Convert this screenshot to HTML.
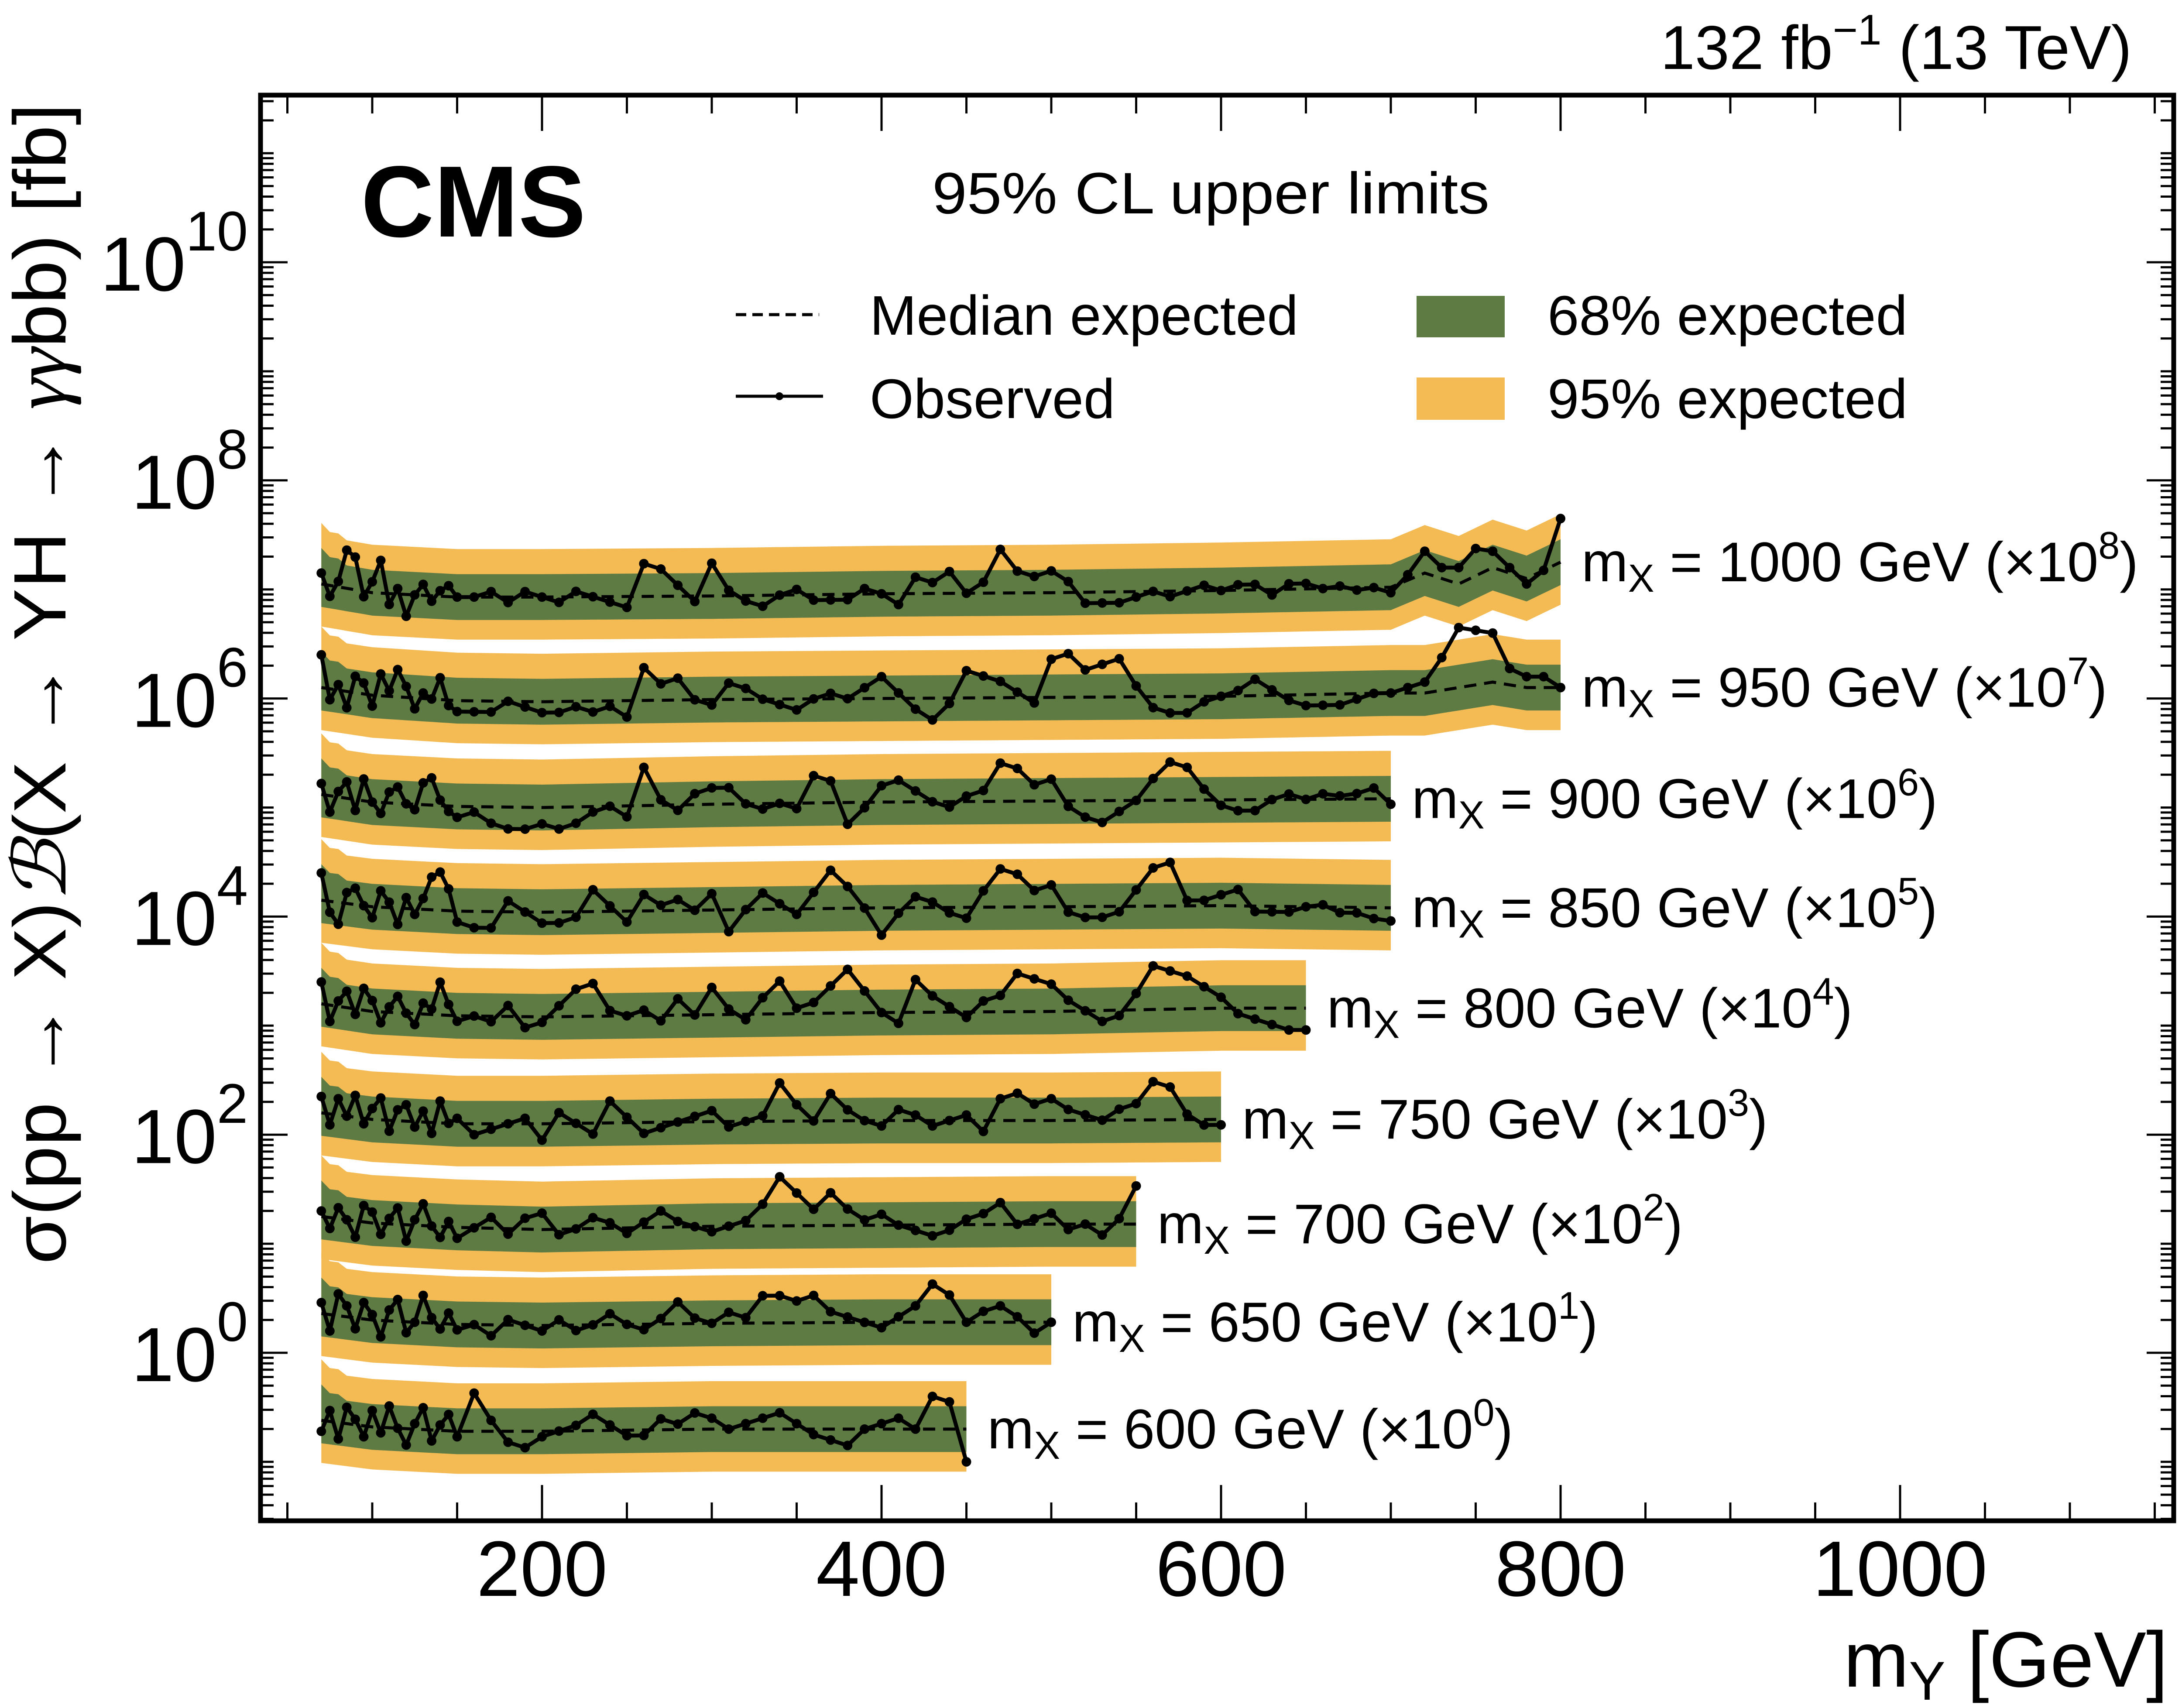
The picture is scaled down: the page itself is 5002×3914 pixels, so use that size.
<!DOCTYPE html>
<html><head><meta charset="utf-8"><style>
html,body{margin:0;padding:0;background:#fff;}
svg{display:block;}
text{font-family:"Liberation Sans",Arial,sans-serif;fill:#000;}
</style></head><body>
<svg id="chart" width="5002" height="3914" viewBox="0 0 5002 3914" xmlns="http://www.w3.org/2000/svg">
<rect x="0" y="0" width="5002" height="3914" fill="#fff"/>
<g id="bands"></g>
<g id="lines"></g>
<g id="axes"></g>
<text x="4885" y="158" font-size="142" text-anchor="end">132 fb<tspan dy="-56" font-size="98">−1</tspan><tspan dy="56"> (13 TeV)</tspan></text>
<text x="827" y="542" font-size="232" font-weight="bold">CMS</text>
<text x="2136" y="489" font-size="134" textLength="1277" lengthAdjust="spacingAndGlyphs">95% CL upper limits</text>
<line x1="1686" y1="721" x2="1877" y2="721" stroke="#000" stroke-width="7" stroke-dasharray="24,14"/>
<text x="1993" y="767" font-size="128" textLength="982" lengthAdjust="spacingAndGlyphs">Median expected</text>
<line x1="1686" y1="908" x2="1886" y2="908" stroke="#000" stroke-width="7"/>
<circle cx="1786" cy="908" r="9" fill="#000"/>
<text x="1993" y="958" font-size="128" textLength="562" lengthAdjust="spacingAndGlyphs">Observed</text>
<rect x="3246" y="678" width="202" height="95" fill="#5f7b44"/>
<text x="3546" y="767" font-size="128" textLength="825" lengthAdjust="spacingAndGlyphs">68% expected</text>
<rect x="3246" y="865" width="202" height="97" fill="#f4bb55"/>
<text x="3546" y="958" font-size="128" textLength="825" lengthAdjust="spacingAndGlyphs">95% expected</text>
<text x="4968" y="3865" font-size="180" text-anchor="end">m<tspan font-size="125" dy="30">Y</tspan><tspan dy="-30"> [GeV]</tspan></text>
<text transform="translate(150,237) rotate(-90)" font-size="170" text-anchor="end" textLength="2660" lengthAdjust="spacingAndGlyphs">σ(pp → X)<tspan font-style="italic" font-family="Liberation Serif, serif">ℬ</tspan>(X → YH → <tspan font-style="italic" font-family="Liberation Serif, serif">γγ</tspan>bb) [fb]</text>
</svg>
<script>
const massX = [600,650,700,750,800,850,900,950,1000];
const scaleExp = [0,1,2,3,4,5,6,7,8];
const mY = [70,75,80,85,90,95,100,105,110,115,120,125,130,135,140,145,150,160,170,180,190,200,210,220,230,240,250,260,270,280,290,300,310,320,330,340,350,360,370,380,390,400,410,420,430,440,450,460,470,480,490,500,510,520,530,540,550,560,570,580,590,600,610,620,630,640,650,660,670,680,690,700,710,720,730,740,750,760,770,780,790,800];
const medNodes = [70,100,150,200,300,400,500,600,700,720,740,760,780,800];
const med600 = [-0.62,-0.68,-0.72,-0.72,-0.70,-0.70];
const med650 = [0.36,0.30,0.26,0.25,0.27,0.28,0.28];
const med700 = [1.25,1.19,1.15,1.13,1.16,1.17,1.18];
const med750 = [2.20,2.14,2.10,2.10,2.12,2.13,2.13,2.14];
const med800 = [3.20,3.13,3.09,3.08,3.10,3.12,3.13,3.16];
const med850 = [4.15,4.09,4.05,4.04,4.06,4.08,4.09,4.10,4.08];
const med900 = [5.12,5.05,5.01,5.00,5.03,5.05,5.06,5.07,5.08];
const med950 = [6.10,6.03,5.98,5.97,5.99,6.00,6.01,6.02,6.05,6.05,6.10,6.15,6.10,6.10];
const med1000 = [7.05,6.97,6.93,6.93,6.94,6.96,6.97,6.99,7.02,7.15,7.05,7.20,7.10,7.25];
const obs600 = [-0.1,0.1,-0.15,0.15,0.05,-0.1,0.15,-0.05,0.2,0.0,-0.15,0.05,0.2,-0.1,0.05,0.15,-0.05,
 0.35,0.1,-0.1,-0.15,-0.05,0,0.05,0.15,0.05,-0.05,-0.05,0.1,0.05,0.15,0.1,0,0.05,0.1,0.15,0.05,-0.05,-0.1,-0.15,0,0.05,0.1,0,0.3,0.25,-0.3];
const obs650 = [0.1,-0.15,0.2,0.1,-0.1,0.15,0.05,-0.15,0.1,0.2,-0.1,0.0,0.25,0.05,-0.05,0.1,-0.05,
 0,-0.1,0.05,0,-0.05,0.05,-0.05,0,0.1,0,-0.05,0.05,0.2,0.05,0,0.1,0.05,0.25,0.25,0.2,0.25,0.1,0.05,0,-0.05,0.05,0.15,0.35,0.25,0,0.1,0.15,0.05,-0.1,0];
const obs700 = [0.05,-0.1,0.1,0,-0.15,0.15,0.1,-0.1,0.05,0.15,-0.15,0.05,0.2,0,-0.1,0.05,-0.1,
 0,0.1,-0.05,0.1,0.15,-0.05,0,0.1,0.05,-0.05,0.05,0.15,0.05,0,-0.05,0,0.05,0.2,0.45,0.3,0.15,0.3,0.15,0.05,0.1,0,-0.05,-0.1,-0.05,0.05,0.1,0.2,0,0.05,0.1,-0.05,0,-0.1,0.05,0.35];
const obs750 = [0.15,-0.1,0.15,0,0.2,-0.05,0.1,0.2,-0.1,0.1,0.15,-0.05,0.1,-0.1,0.2,0,0.05,
 -0.1,-0.05,0,0.05,-0.15,0.1,0,-0.1,0.2,0.05,-0.1,-0.05,0,0.05,0.1,-0.05,0,0.05,0.35,0.15,0,0.25,0.1,0,-0.05,0.1,0.05,-0.05,0,0.05,-0.1,0.2,0.25,0.15,0.2,0.1,0.05,0,0.1,0.15,0.35,0.3,0.05,-0.05,-0.05];
const obs800 = [0.2,-0.15,0.05,0.15,-0.05,0.2,0.1,-0.1,0.05,0.15,0,-0.1,0.1,0.05,0.3,0.1,-0.05,
 0,-0.05,0.1,-0.1,-0.05,0.1,0.25,0.3,0.05,0,0.05,-0.05,0.15,0,0.25,0.05,-0.05,0.15,0.3,0.05,0.1,0.25,0.4,0.2,0,-0.1,0.3,0.15,0.05,-0.05,0.1,0.15,0.35,0.3,0.25,0.1,0,-0.1,-0.05,0.15,0.4,0.35,0.3,0.2,0.1,-0.05,-0.1,-0.15,-0.2,-0.2];
const obs850 = [0.25,-0.1,-0.2,0.1,0.15,0,-0.1,0.15,0.05,-0.15,0.1,-0.05,0.1,0.3,0.35,0.2,-0.1,
 -0.15,-0.15,0.1,0,-0.1,-0.1,-0.05,0.2,0.05,-0.1,0.15,0.05,0.1,0,0.15,-0.2,0,0.15,0.05,-0.05,0.15,0.35,0.2,0,-0.25,-0.05,0.1,0.05,-0.05,-0.1,0.15,0.35,0.3,0.15,0.2,-0.05,-0.1,-0.1,-0.05,0.15,0.35,0.4,0.05,0.05,0.1,0.15,-0.05,-0.05,-0.05,0,0.02,-0.05,-0.05,-0.1,-0.12];
const obs900 = [0.1,-0.15,0.05,0.15,-0.1,0.2,0,-0.1,0.1,0.15,0,-0.05,0.2,0.25,0.05,-0.05,-0.1,
 -0.05,-0.15,-0.2,-0.2,-0.15,-0.2,-0.15,-0.05,0,-0.1,0.35,0.05,-0.05,0.1,0.15,0.15,0,-0.05,0,-0.05,0.25,0.2,-0.2,-0.05,0.15,0.2,0.1,0,-0.05,0.05,0.1,0.35,0.3,0.15,0.2,-0.05,-0.15,-0.2,-0.1,0,0.2,0.35,0.3,0.1,-0.05,-0.1,-0.1,0,0.05,0,0.05,0.03,0.05,0.1,-0.05];
const obs950 = [0.3,-0.1,0.05,-0.15,0.15,0.1,-0.1,0.2,0.05,0.25,0.1,-0.1,0.05,0,0.2,-0.05,-0.1,
 -0.1,-0.1,0,-0.05,-0.1,-0.1,-0.05,-0.1,-0.05,-0.15,0.3,0.15,0.2,0,-0.05,0.15,0.1,0,-0.05,-0.1,0,0.05,0,0.1,0.2,0.05,-0.1,-0.2,-0.05,0.25,0.2,0.15,0.05,-0.05,0.35,0.4,0.25,0.3,0.35,0.1,-0.1,-0.15,-0.15,-0.05,0,0.05,0.15,0.05,-0.05,-0.1,-0.1,-0.1,-0.05,0,0,0.05,0.1,0.3,0.55,0.5,0.45,0.15,0.1,0.1,0];
const obs1000 = [0.1,-0.1,0.05,0.35,0.3,-0.05,0.1,0.3,-0.1,0.05,-0.2,0,0.1,-0.05,0.05,0.1,0,
 0,0.05,-0.05,0.05,0,-0.05,0.05,0,-0.05,-0.1,0.3,0.25,0.1,-0.05,0.3,0.05,-0.05,-0.1,0,0.05,-0.05,-0.05,-0.05,0.05,0,-0.1,0.15,0.1,0.2,0,0.1,0.4,0.2,0.15,0.2,0.1,-0.1,-0.1,-0.1,-0.05,0,-0.05,0,0.05,0,0.05,0.05,-0.05,0.05,0.05,0,0.02,-0.02,0,-0.05,0.05,0.2,0.1,0.15,0.25,0.15,0.05,-0.05,0,0.4];
const medians = [med600,med650,med700,med750,med800,med850,med900,med950,med1000];
const observed = [obs600,obs650,obs700,obs750,obs800,obs850,obs900,obs950,obs1000];

const NS="http://www.w3.org/2000/svg";
const L=597,R=4981,T=218,B=3485;
function xPix(v){return 1242+(v-200)*3.89;}
function yPix(l){return 3100-249.9*l;}
function medAt(arr,x){
  for(let i=0;i<arr.length-1;i++){
    if(x<=medNodes[i+1]){const t=(x-medNodes[i])/(medNodes[i+1]-medNodes[i]);return arr[i]+t*(arr[i+1]-arr[i]);}
  }
  return arr[arr.length-1];
}
function mk(tag,attrs,parent){const e=document.createElementNS(NS,tag);for(const k in attrs)e.setAttribute(k,attrs[k]);parent.appendChild(e);return e;}
const gB=document.getElementById('bands'),gL=document.getElementById('lines'),gA=document.getElementById('axes'),svg=document.getElementById('chart');

observed.forEach((obs,si)=>{
  const n=obs.length, xs=mY.slice(0,n), meds=xs.map(x=>medAt(medians[si],x));
  const flare=xs.map((x,i)=>i===0?0.12:(i<3?0.05:0));
  function band(up,dn){
    let d='';
    xs.forEach((x,i)=>{d+=(i?'L':'M')+xPix(x).toFixed(1)+','+yPix(meds[i]+up+flare[i]).toFixed(1);});
    for(let i=n-1;i>=0;i--){d+='L'+xPix(xs[i]).toFixed(1)+','+yPix(meds[i]-dn).toFixed(1);}
    return d+'Z';
  }
  const y95=mk('path',{d:band(0.44,0.39),fill:'#f4bb55'},gB);
  
  
  const g68=mk('path',{d:band(0.21,0.21),fill:'#5f7b44'},gB);
  
  
  let dm='';xs.forEach((x,i)=>{dm+=(i?'L':'M')+xPix(x).toFixed(1)+','+yPix(meds[i]).toFixed(1);});
  const ml=mk('path',{d:dm,fill:'none',stroke:'#000','stroke-width':7,'stroke-dasharray':'28,18'},gL);
  
  
  let dobs='';xs.forEach((x,i)=>{dobs+=(i?'L':'M')+xPix(x).toFixed(1)+','+yPix(meds[i]+obs[i]).toFixed(1);});
  const ol=mk('path',{d:dobs,fill:'none',stroke:'#000','stroke-width':9,'stroke-linejoin':'round'},gL);
  
  
  xs.forEach((x,i)=>{
    const c=mk('circle',{cx:xPix(x).toFixed(1),cy:yPix(meds[i]+obs[i]).toFixed(1),r:11,fill:'#000'},gL);
    
    
  });
  const xe=xs[n-1];
  const t=mk('text',{x:(xPix(xe)+48).toFixed(1),y:(yPix(meds[n-1])+44).toFixed(1),'font-size':128},svg);
  
  
  t.innerHTML='m<tspan font-size="90" dy="24">X</tspan><tspan dy="-24"> = '+massX[si]+' GeV (×10</tspan><tspan font-size="88" dy="-52">'+scaleExp[si]+'</tspan><tspan dy="52">)</tspan>';
});

const fr=mk('rect',{x:L,y:T,width:R-L,height:B-T,fill:'none',stroke:'#000','stroke-width':11},gA);


const xMajor=[200,400,600,800,1000];
for(let v=50;v<=1150;v+=50){
  const maj=xMajor.includes(v), len=maj?82:42, xp=xPix(v);
  const a=mk('line',{x1:xp,y1:B,x2:xp,y2:B-len,stroke:'#000','stroke-width':5},gA);
  
  
  const b=mk('line',{x1:xp,y1:T,x2:xp,y2:T+len,stroke:'#000','stroke-width':5},gA);
  
  
  if(maj){
    const t=mk('text',{x:xp,y:3657,'font-size':180,'text-anchor':'middle'},gA);
    
    
    t.textContent=String(v);
  }
}
const yLabels=[0,2,4,6,8,10];
for(let d=-2;d<=11;d++){
  for(let m=1;m<=9;m++){
    const l=d+Math.log10(m), yp=yPix(l);
    if(yp<T||yp>B)continue;
    const len=(m===1&&yLabels.includes(d))?62:30;
    const a=mk('line',{x1:L,y1:yp,x2:L+len,y2:yp,stroke:'#000','stroke-width':5},gA);
    
    
    const b=mk('line',{x1:R,y1:yp,x2:R-len,y2:yp,stroke:'#000','stroke-width':5},gA);
    
    
  }
}
yLabels.forEach(d=>{
  const yp=yPix(d);
  const t=mk('text',{x:568,y:yp+65,'font-size':176,'text-anchor':'end'},gA);
  
  
  t.innerHTML='10<tspan font-size="128" dy="-92">'+d+'</tspan>';
});
</script>
</body></html>
